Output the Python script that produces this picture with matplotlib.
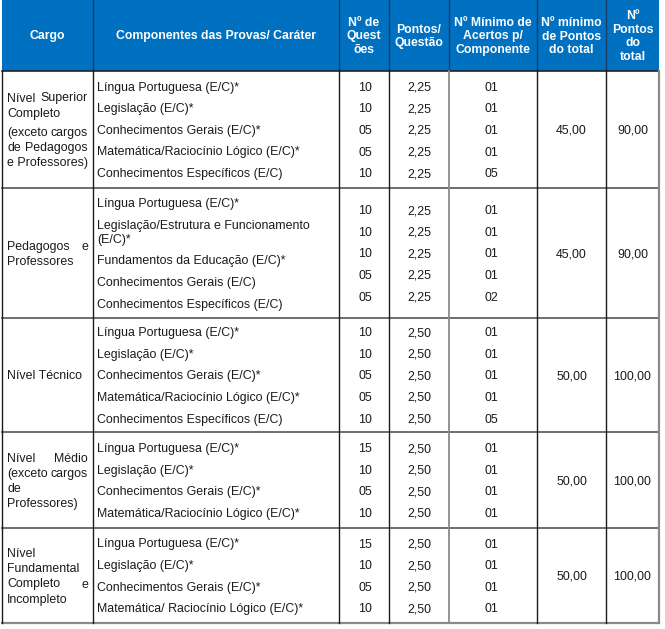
import matplotlib.pyplot as plt
from matplotlib.patches import Rectangle

plt.rcParams['font.family'] = ['Liberation Sans', 'DejaVu Sans']

cabecalho = ["Cargo", "Componentes das Provas/ Caráter", "Nº de\nQuest\nões",
             "Pontos/\nQuestão", "Nº Mínimo de\nAcertos p/\nComponente",
             "Nº mínimo\nde Pontos\ndo total", "Nº\nPontos\ndo\ntotal"]

# cargo text, one list of lines per paragraph
cargos = [
    [["Nível Superior", "Completo"], ["(exceto cargos", "de Pedagogos", "e Professores)"]],
    [["Pedagogos e", "Professores"]],
    [["Nível Técnico"]],
    [["Nível Médio", "(exceto cargos", "de", "Professores)"]],
    [["Nível", "Fundamental", "Completo e", "Incompleto"]],
]

componentes = [
    ["Língua Portuguesa (E/C)*", "Legislação (E/C)*", "Conhecimentos Gerais (E/C)*",
     "Matemática/Raciocínio Lógico (E/C)*", "Conhecimentos Específicos (E/C)"],
    ["Língua Portuguesa (E/C)*", "Legislação/Estrutura e Funcionamento\n(E/C)*",
     "Fundamentos da Educação (E/C)*", "Conhecimentos Gerais (E/C)",
     "Conhecimentos Específicos (E/C)"],
    ["Língua Portuguesa (E/C)*", "Legislação (E/C)*", "Conhecimentos Gerais (E/C)*",
     "Matemática/Raciocínio Lógico (E/C)*", "Conhecimentos Específicos (E/C)"],
    ["Língua Portuguesa (E/C)*", "Legislação (E/C)*", "Conhecimentos Gerais (E/C)*",
     "Matemática/Raciocínio Lógico (E/C)*"],
    ["Língua Portuguesa (E/C)*", "Legislação (E/C)*", "Conhecimentos Gerais (E/C)*",
     "Matemática/ Raciocínio Lógico (E/C)*"],
]

questoes = [["10", "10", "05", "05", "10"],
            ["10", "10", "10", "05", "05"],
            ["10", "10", "05", "05", "10"],
            ["15", "10", "05", "10"],
            ["15", "10", "05", "10"]]

pontos_questao = [["2,25"] * 5, ["2,25"] * 5, ["2,50"] * 5, ["2,50"] * 4, ["2,50"] * 4]

min_acertos = [["01", "01", "01", "01", "05"],
               ["01", "01", "01", "01", "02"],
               ["01", "01", "01", "01", "05"],
               ["01", "01", "01", "01"],
               ["01", "01", "01", "01"]]

min_pontos = ["45,00", "45,00", "50,00", "50,00", "50,00"]
pontos_total = ["90,00", "90,00", "100,00", "100,00", "100,00"]

# layout in pixels
W, H = 665, 629
cols = [2, 93, 339, 389, 449, 537, 606, 659]
rows = [0, 71, 188, 318, 432, 528, 623]
blue = "#0070C0"
ink = "#1a1a1a"
fs = 8.9
BL = 4.4  # baseline offset below the row centre


def cell(x, y, s, ha="left"):
    return ax.text(x, y + BL, s, ha=ha, va="baseline", fontsize=fs, color=ink)


fig = plt.figure(figsize=(W / 100, H / 100), dpi=100)
ax = fig.add_axes([0, 0, 1, 1])
ax.set_xlim(0, W)
ax.set_ylim(H, 0)
ax.axis("off")

# header
ax.add_patch(Rectangle((cols[0], rows[0]), cols[-1] - cols[0], rows[1] - rows[0],
                       facecolor=blue, edgecolor="none"))
for i, txt in enumerate(cabecalho):
    cx = (cols[i] + cols[i + 1]) / 2
    ax.text(cx, (rows[0] + rows[1]) / 2 + 1, txt, ha="center", va="center",
            color="white", fontsize=8.8, fontweight="bold", linespacing=1.22)
for x in cols[1:-1]:
    ax.plot([x, x], [rows[0], rows[1]], color="#1d3f66", lw=1)

fig.canvas.draw()
renderer = fig.canvas.get_renderer()


def justified(line, y, x0, x1):
    words = line.split()
    if len(words) == 1:
        cell(x0, y, line)
        return
    arts = [cell(0, y, w) for w in words]
    inv = ax.transData.inverted()
    widths = []
    for a in arts:
        bb = a.get_window_extent(renderer)
        p0 = inv.transform((bb.x0, bb.y0))
        p1 = inv.transform((bb.x1, bb.y0))
        widths.append(p1[0] - p0[0])
    gap = (x1 - x0 - sum(widths)) / (len(words) - 1)
    x = x0
    for a, w in zip(arts, widths):
        a.set_x(x)
        x += w + gap


for g in range(len(componentes)):
    top, bot = rows[g + 1], rows[g + 2]
    mid = (top + bot) / 2

    # cargo
    lines = []
    for p, par in enumerate(cargos[g]):
        for k, ln in enumerate(par):
            lines.append((ln, k < len(par) - 1, p))
    step = 15.2
    ys = []
    y = 0
    for idx, (ln, just, p) in enumerate(lines):
        if idx > 0:
            y += step + (4 if p != lines[idx - 1][2] else 0)
        ys.append(y)
    off = mid - (ys[0] + ys[-1]) / 2
    for (ln, just, p), yy in zip(lines, ys):
        if just:
            justified(ln, yy + off, cols[0] + 5, cols[1] - 5)
        else:
            cell(cols[0] + 5, yy + off, ln)

    # componentes
    ys = []
    y = 0
    for item in componentes[g]:
        parts = item.split("\n")
        for j, part in enumerate(parts):
            ys.append((part, y))
            y += 14.2 if j < len(parts) - 1 else 21.6
    off = mid - (ys[0][1] + ys[-1][1]) / 2
    for part, yy in ys:
        cell(cols[1] + 4, yy + off, part)

    # numeric columns
    n = len(questoes[g])
    for r in range(n):
        yy = mid + (r - (n - 1) / 2) * 21.6
        cell((cols[2] + cols[3]) / 2 + 1, yy, questoes[g][r], ha="center")
        cell((cols[3] + cols[4]) / 2, yy, pontos_questao[g][r], ha="center")
        cell((cols[4] + cols[5]) / 2 - 2, yy, min_acertos[g][r], ha="center")
    cell((cols[5] + cols[6]) / 2, mid, min_pontos[g], ha="center")
    cell((cols[6] + cols[7]) / 2, mid, pontos_total[g], ha="center")

# grid lines
for y in rows[1:-1]:
    ax.plot([cols[0], cols[-1]], [y, y], color="#222222" if y == rows[1] else "#555555", lw=1.2)
ax.plot([cols[0], cols[-1]], [rows[-1], rows[-1]], color="#8a8a8a", lw=1.6)
for i, x in enumerate(cols):
    if i == len(cols) - 1:
        ax.plot([x, x], [rows[1], rows[-1]], color="#8a8a8a", lw=1.6)
    elif i == 4:
        ax.plot([x, x], [rows[1], rows[-1]], color="#8a8a8a", lw=1.3)
    else:
        ax.plot([x, x], [rows[1], rows[-1]], color="#1a1a1a", lw=1)

fig.savefig("out.png", dpi=100)
